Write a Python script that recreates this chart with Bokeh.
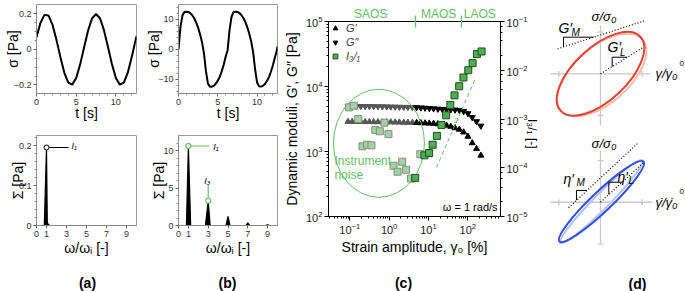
import math
from bokeh.plotting import figure
from bokeh.layouts import row, column
from bokeh.models import (Range1d, FixedTicker, Label, LogAxis, LogScale, Legend,
                          LegendItem, CustomJSTickFormatter)
from bokeh.embed import file_html
from bokeh.resources import INLINE

FONT = "Liberation Sans"
GREEN = "#63bf63"

# ---------------- data ----------------
# (a) linear stress response
t_a = [0.0, 0.5, 1.0, 1.5, 2.0, 2.5, 3.0, 3.5, 4.0, 4.5, 5.0, 5.5, 6.0, 6.5, 7.0,
       7.5, 8.0, 8.5, 9.0, 9.5, 10.0, 10.5, 11.0, 11.5, 12.0, 12.5, 12.6]
sig_a = [0.069, 0.150, 0.195, 0.192, 0.142, 0.057, -0.041, -0.130, -0.187, -0.198,
         -0.161, -0.084, 0.013, 0.107, 0.175, 0.200, 0.176, 0.109, 0.015, -0.082,
         -0.160, -0.198, -0.187, -0.131, -0.043, 0.056, 0.075]
# (a) spectrum
w_a = [0.0, 0.78, 1.0, 1.08, 1.3, 10.0]
S_a = [0.0, 0.0, 0.195, 0.006, 0.0, 0.0]
peak_a_w = [1.0]
peak_a_S = [0.195]

# (b) nonlinear stress response
t_b = [0.0, 0.25, 0.5, 0.75, 1.0, 1.25, 1.5, 1.75, 2.0, 2.25, 2.5, 2.75, 3.0, 3.25,
       3.5, 3.75, 4.0, 4.25, 4.5, 4.75, 5.0, 5.25, 5.5, 5.75, 6.0, 6.25, 6.5, 6.75,
       7.0, 7.25, 7.5, 7.75, 8.0, 8.25, 8.5, 8.75, 9.0, 9.25, 9.5, 9.75, 10.0, 10.25,
       10.5, 10.75, 11.0, 11.25, 11.5, 11.75, 12.0, 12.25, 12.5, 12.6]
sig_b = [0.0, 7.5, 11.3, 12.5, 12.6, 12.5, 12.1, 11.4, 10.4, 9.0, 7.2, 5.0, 2.3, -1.5,
         -7.5, -11.5, -12.5, -12.5, -12.2, -11.5, -10.5, -9.2, -7.4, -5.2, -2.5, -0.3,
         6.5, 10.9, 12.4, 12.6, 12.5, 12.15, 11.5, 10.5, 9.2, 7.4, 5.3, 2.7, -1.0, -6.7,
         -11.1, -12.4, -12.5, -12.25, -11.6, -10.6, -9.4, -7.6, -5.5, -2.9, -0.6, 1.0]
# (b) spectrum
w_b = [0.0, 0.8, 1.0, 1.23, 2.72, 3.0, 3.2, 4.8, 5.0, 5.2, 6.8, 7.0, 7.2, 8.8, 9.0, 9.2, 10.0]
S_b = [0.0, 0.0, 10.6, 0.0, 0.0, 3.3, 0.0, 0.0, 1.2, 0.0, 0.0, 0.35, 0.0, 0.0, 0.1, 0.0, 0.0]
peak_b_w = [1.0, 3.0]
peak_b_S = [10.6, 3.3]

# (c) strain sweep
strain = [0.09, 0.115, 0.148, 0.19, 0.245, 0.315, 0.405, 0.52, 0.67, 0.86, 1.1, 1.42,
          1.82, 2.35, 3.0, 3.9, 5.0, 6.4, 8.2, 10.5, 13.5, 17.4, 22.4, 28.8, 37.0, 47.5,
          61.0, 78.5, 101.0, 130.0, 167.0, 215.0]
G_storage = [2880, 2880, 2870, 2870, 2860, 2860, 2850, 2850, 2840, 2840, 2830, 2820,
             2810, 2800, 2790, 2780, 2770, 2750, 2730, 2710, 2690, 2650, 2600, 2520,
             2420, 2300, 2180, 1980, 1700, 1350, 1100, 870]
G_loss = [5000, 4990, 4980, 4970, 4960, 4950, 4940, 4930, 4910, 4900, 4880, 4860,
          4840, 4820, 4800, 4780, 4750, 4720, 4680, 4620, 4570, 4520, 4480, 4440,
          4420, 4380, 4320, 4150, 3850, 3350, 2900, 2480]
strain_noise = [0.096, 0.126, 0.164, 0.21, 0.275, 0.355, 0.447, 0.58, 0.76, 0.96,
                1.3, 1.64, 2.15, 2.7, 3.6, 6.2]
I31_noise = [1.73e-3, 1.87e-3, 1.0e-3, 2.75e-4, 2.97e-4, 2.88e-4, 5.96e-4, 5.6e-4,
             8.4e-4, 4.9e-4, 1.1e-4, 8.3e-5, 1.33e-4, 9.1e-5, 6.0e-5, 1.9e-4]
strain_I31 = [4.6, 7.9, 10.4, 12.8, 16.4, 21.5, 28.2, 36.0, 46.0, 60.6, 77.6, 103.0,
              133.0, 171.0, 224.0]
I31 = [6.2e-5, 1.8e-4, 2.0e-4, 2.97e-4, 4.5e-4, 7.5e-4, 1.19e-3, 1.94e-3, 3.05e-3,
       4.7e-3, 7.1e-3, 1.0e-2, 1.4e-2, 2.15e-2, 2.43e-2]
slope_strain = [16.0, 161.0]
slope_I31 = [1.02e-4, 7.1e-3]
regime_names = ["SAOS", "MAOS", "LAOS"]
regime_label_pos = [0.34, 18.1, 203.0]
regime_bounds = [4.81, 68.0]
SAOS_LIMIT = 4.5

# (d) schematic Lissajous loops (normalised units)
elastic_loop = dict(x=0.0, y=0.0, width=2.61, height=1.27, angle=0.75)
viscous_loop = dict(x=0.024, y=-3.063, width=2.78, height=0.48, angle=0.761)

panel_names = ["(a)", "(b)", "(c)", "(d)"]

TOP_H = 265  # height of the plotting row; panel letters sit in a strip below


# ---------------- helpers ----------------
def mk_map(fx0, fx1, fy0, fy1, xr, yr, xlog=False, ylog=False):
    def conv(u, r, log):
        if log:
            a, b = math.log10(r[0]), math.log10(r[1])
            return 10 ** (a + u * (b - a))
        return r[0] + u * (r[1] - r[0])

    def f(px, py):
        ux = (px - fx0) / (fx1 - fx0)
        uy = (fy1 - py) / (fy1 - fy0)
        return conv(ux, xr, xlog), conv(uy, yr, ylog)
    return f


def lab(p, m, px, py, text, size, angle=0.0, align="center", baseline="middle",
        color="black", style="normal"):
    x, y = m(px, py)
    p.add_layout(Label(x=x, y=y, text=text, text_font=FONT, text_font_size=f"{size}px",
                       angle=angle, text_align=align, text_baseline=baseline,
                       text_color=color, text_font_style=style))


def axlabel(ax, text, size=14, standoff=0):
    ax.axis_label = text
    ax.axis_label_text_font = FONT
    ax.axis_label_text_font_size = f"{size}px"
    ax.axis_label_text_font_style = "normal"
    ax.axis_label_text_color = "black"
    ax.axis_label_standoff = standoff


def style_small(p):
    p.grid.visible = False
    p.outline_line_color = "#9a9a9a"
    for ax in p.axis:
        ax.axis_line_color = "#8a8a8a"
        ax.major_tick_line_color = "#666666"
        ax.minor_tick_line_color = "#888888"
        ax.major_tick_out = 3
        ax.major_tick_in = 0
        ax.minor_tick_out = 2
        ax.minor_tick_in = 0
        ax.major_label_text_font = FONT
        ax.major_label_text_font_size = "9px"
        ax.major_label_text_color = "#333333"
        ax.major_label_standoff = 2


def small_fig(w, h, xr, yr, ml, mr, mt, mb):
    p = figure(width=w, height=h, x_range=Range1d(*xr), y_range=Range1d(*yr),
               output_backend="svg", toolbar_location=None,
               min_border_left=ml, min_border_right=mr, min_border_top=mt,
               min_border_bottom=mb)
    style_small(p)
    return p


# ---------------- panel (a) ----------------
xr, yr = (0, 12.6), (-0.248, 0.2535)
pa1 = small_fig(143, 130, xr, yr, 36, 7, 4, 37)
pa1.line(t_a, sig_a, line_color="black", line_width=2)
pa1.xaxis.ticker = FixedTicker(ticks=[0, 5, 10], minor_ticks=[1, 2, 3, 4, 6, 7, 8, 9, 11, 12])
pa1.yaxis.ticker = FixedTicker(ticks=[-0.2, 0, 0.2], minor_ticks=[-0.15, -0.1, -0.05, 0.05, 0.1, 0.15])
pa1.yaxis.major_label_overrides = {-0.2: "\u22120.2", 0: "0", 0.2: "0.2"}
axlabel(pa1.yaxis[0], "σ [Pa]", standoff=-10)
axlabel(pa1.xaxis[0], "t [s]", standoff=-3)

xr, yr = (0, 10), (0, 0.225)
pa2 = small_fig(143, TOP_H - 130, xr, yr, 36, 7, 5, TOP_H - 225)
ma2 = mk_map(36, 136, 135, 225, xr, yr)
pa2.varea(x=w_a, y1=[0] * len(w_a), y2=S_a, fill_color="black")
pa2.line(w_a, S_a, line_color="black", line_width=1.2)
pa2.line([peak_a_w[0], peak_a_w[0] + 2.2], [peak_a_S[0], peak_a_S[0]], line_color="black", line_width=1)
pa2.scatter(peak_a_w, peak_a_S, marker="circle", size=5, fill_color="white",
            line_color="black", line_width=1)
pa2.xaxis.ticker = FixedTicker(ticks=[0, 1, 3, 5, 7, 9])
pa2.yaxis.ticker = FixedTicker(ticks=[0, 0.1, 0.2], minor_ticks=[0.02, 0.04, 0.06, 0.08, 0.12, 0.14, 0.16, 0.18, 0.22])
pa2.yaxis.major_label_overrides = {0: "0", 0.1: "0.1", 0.2: "0.2"}
axlabel(pa2.yaxis[0], "Σ [Pa]", standoff=-10)
axlabel(pa2.xaxis[0], "ω/ωᵢ [-]", standoff=0)
lab(pa2, ma2, 71, 145, "I₁", 9, align="left", style="italic")

# ---------------- panel (b) ----------------
xr, yr = (0, 12.6), (-14.8, 15)
pb1 = small_fig(137, 130, xr, yr, 35, 3, 4, 37)
pb1.line(t_b, sig_b, line_color="black", line_width=2)
pb1.xaxis.ticker = FixedTicker(ticks=[0, 5, 10], minor_ticks=[1, 2, 3, 4, 6, 7, 8, 9, 11, 12])
pb1.yaxis.ticker = FixedTicker(ticks=[-10, 0, 10], minor_ticks=[-14, -12, -8, -6, -4, -2, 2, 4, 6, 8, 12, 14])
pb1.yaxis.major_label_overrides = {-10: "\u221210", 0: "0", 10: "10"}
axlabel(pb1.yaxis[0], "σ [Pa]", standoff=-7)
axlabel(pb1.xaxis[0], "t [s]", standoff=-3)

xr, yr = (0, 10), (0, 12)
pb2 = small_fig(137, TOP_H - 130, xr, yr, 35, 3, 5, TOP_H - 225)
mb2 = mk_map(178, 277, 135, 225, xr, yr)
pb2.varea(x=w_b, y1=[0] * len(w_b), y2=S_b, fill_color="black")
pb2.line(w_b, S_b, line_color="black", line_width=1.2)
pb2.line([peak_b_w[0], peak_b_w[0] + 2.1], [peak_b_S[0], peak_b_S[0]], line_color=GREEN, line_width=1.2)
pb2.line([peak_b_w[1], peak_b_w[1]], [peak_b_S[1], peak_b_S[1] + 2.1], line_color=GREEN, line_width=1.2)
pb2.scatter(peak_b_w, peak_b_S, marker="circle", size=5, fill_color="white",
            line_color=GREEN, line_width=1.2)
pb2.xaxis.ticker = FixedTicker(ticks=[0, 1, 3, 5, 7, 9])
pb2.yaxis.ticker = FixedTicker(ticks=[0, 5, 10], minor_ticks=[1, 2, 3, 4, 6, 7, 8, 9, 11])
axlabel(pb2.yaxis[0], "Σ [Pa]", standoff=-7)
axlabel(pb2.xaxis[0], "ω/ωᵢ [-]", standoff=0)
lab(pb2, mb2, 212.7, 146.7, "I₁", 9, align="left", style="italic")
lab(pb2, mb2, 206.7, 180, "I₃", 9, style="italic")

# ---------------- panel (c) ----------------
xr, yr, ir = (0.02868, 680.0), (1e2, 1e5), (1e-5, 1e-1)
pc = figure(width=268, height=TOP_H, x_axis_type="log", y_axis_type="log",
            x_range=Range1d(*xr), y_range=Range1d(*yr),
            output_backend="svg", toolbar_location=None,
            min_border_left=45, min_border_right=48, min_border_top=21,
            min_border_bottom=TOP_H - 216)
mc = mk_map(325, 500, 21, 216, xr, yr, xlog=True, ylog=True)
pc.grid.visible = False
pc.outline_line_color = "black"
pc.extra_y_ranges = {"I": Range1d(*ir)}
pc.extra_y_scales = {"I": LogScale()}
right_ax = LogAxis(y_range_name="I")
pc.add_layout(right_ax, "right")
top_ax = LogAxis(ticker=FixedTicker(ticks=regime_label_pos, minor_ticks=regime_bounds),
                 formatter=CustomJSTickFormatter(
                     args=dict(names=regime_names), code="return names[index]"))
pc.add_layout(top_ax, "above")
for ax in pc.axis:
    ax.axis_line_color = "black"
    ax.major_tick_line_color = "black"
    ax.minor_tick_line_color = "black"
    ax.major_tick_out = 4
    ax.major_tick_in = 0
    ax.minor_tick_out = 2
    ax.minor_tick_in = 0
    ax.major_label_text_font = FONT
    ax.major_label_text_font_size = "11px"
    ax.major_label_text_color = "#222222"
    ax.major_label_standoff = 2
top_ax.major_tick_line_color = None
top_ax.major_tick_out = 0
top_ax.minor_tick_in = 6
top_ax.minor_tick_out = 6
top_ax.minor_tick_line_color = GREEN
top_ax.minor_tick_line_width = 1.3
top_ax.major_label_text_color = GREEN
top_ax.major_label_text_font_size = "12px"
top_ax.major_label_standoff = -5
pc.xaxis[0].major_label_overrides = {1: "1"}
axlabel(pc.yaxis[0], "Dynamic moduli, G′, G″ [Pa]", standoff=3)
axlabel(pc.below[0], "Strain amplitude, γ₀ [%]", standoff=2)
axlabel(right_ax, "I₃/₁ [-]", size=12, standoff=1)
right_ax.axis_label_orientation = -math.pi / 2

gray_idx = [i for i, s in enumerate(strain) if s < SAOS_LIMIT]
blk_idx = [i for i, s in enumerate(strain) if s >= SAOS_LIMIT]
pc.scatter([strain[i] for i in gray_idx], [G_loss[i] for i in gray_idx], marker="inverted_triangle",
           size=6, color="#555555")
pc.scatter([strain[i] for i in gray_idx], [G_storage[i] for i in gray_idx], marker="triangle",
           size=6, color="#555555")
r_gl = pc.scatter([strain[i] for i in blk_idx], [G_loss[i] for i in blk_idx], marker="inverted_triangle",
                  size=6, color="black")
r_gs = pc.scatter([strain[i] for i in blk_idx], [G_storage[i] for i in blk_idx], marker="triangle",
                  size=6, color="black")

pc.ellipse(x=[0.55], y=[1337], width=[91], height=[108], width_units="screen",
           height_units="screen", fill_color=None, line_color=GREEN, line_width=1)
pc.line(slope_strain, slope_I31, y_range_name="I", line_color=GREEN, line_width=1,
        line_dash="4 3")
pc.scatter(strain_noise, I31_noise, y_range_name="I", marker="square", size=7,
           fill_color="#9fd49c", line_color="#8a8a8a", line_width=1)
r_i = pc.scatter(strain_I31, I31, y_range_name="I", marker="square", size=7,
                 fill_color="#4fae52", line_color="#1f4f1f", line_width=1)

leg = Legend(items=[LegendItem(label="G′", renderers=[r_gs]),
                    LegendItem(label="G″", renderers=[r_gl]),
                    LegendItem(label="I₃/₁", renderers=[r_i])],
             location="top_left", label_text_font=FONT, label_text_font_style="italic",
             label_text_font_size="11px", glyph_width=12, glyph_height=12, label_height=12,
             spacing=2, padding=2, margin=1, border_line_color=None,
             background_fill_alpha=0, label_standoff=5)
pc.add_layout(leg)

lab(pc, mc, 497, 206.5, "ω = 1 rad/s", 11, align="right")
lab(pc, mc, 331, 160.8, "Instrument", 12, align="left", color=GREEN)
lab(pc, mc, 331, 174, "noise", 12, align="left", color=GREEN)
lab(pc, mc, 455, 120, "2", 8, color=GREEN, style="italic")

# ---------------- panel (d) ----------------
U = 41.7
xr, yr = (-52 / U, 85 / U), (-(TOP_H - 73.3) / U, 73.3 / U)
pd = figure(width=137, height=TOP_H, x_range=Range1d(*xr), y_range=Range1d(*yr),
            output_backend="svg", toolbar_location=None, min_border=0,
            x_axis_location=None, y_axis_location=None)
md = mk_map(548, 685, 0, TOP_H, xr, yr)
pd.grid.visible = False
pd.outline_line_color = None

AX = "#c8c8c8"
pd.segment(x0=[-1.2, 0.0, -1.2, 0.0], y0=[0.0, 1.16, -3.08, -1.84],
           x1=[1.2, 0.0, 1.24, 0.0], y1=[0.0, -1.24, -3.08, -4.07],
           line_color=AX, line_width=1.3)
pd.segment(x0=[-1.0, 1.0, -0.07, -0.07, -1.0, 1.0, -0.07, -0.07],
           y0=[-0.07, -0.07, 1.0, -1.0, -3.15, -3.15, -2.08, -4.08],
           x1=[-1.0, 1.0, 0.07, 0.07, -1.0, 1.0, 0.07, 0.07],
           y1=[0.07, 0.07, 1.0, -1.0, -3.01, -3.01, -2.08, -4.08],
           line_color=AX, line_width=1.3)

pd.ellipse(x=elastic_loop["x"] + 0.03, y=elastic_loop["y"] - 0.03, width=elastic_loop["width"] - 0.02,
           height=elastic_loop["height"] + 0.06, angle=elastic_loop["angle"] - 0.03,
           fill_color=None, line_color="#f6bcb4", line_width=2)
pd.ellipse(x=elastic_loop["x"], y=elastic_loop["y"], width=elastic_loop["width"],
           height=elastic_loop["height"], angle=elastic_loop["angle"],
           fill_color=None, line_color="#e5432f", line_width=2)
pd.ellipse(x=viscous_loop["x"], y=viscous_loop["y"], width=viscous_loop["width"],
           height=viscous_loop["height"] - 0.12, angle=viscous_loop["angle"] + 0.03,
           fill_color=None, line_color="#b3c2f4", line_width=2)
pd.ellipse(x=viscous_loop["x"], y=viscous_loop["y"], width=viscous_loop["width"],
           height=viscous_loop["height"], angle=viscous_loop["angle"],
           fill_color=None, line_color="#2f50e3", line_width=2)

pd.segment(x0=[-1.03, 0.0, -0.767, 0.0], y0=[0.60, 0.0, -3.211, -3.08],
           x1=[1.08, 1.03, 0.887, 1.04], y1=[1.278, 0.638, -1.671, -2.12],
           line_color="black", line_width=1.2, line_dash="1 2")
pd.multi_line(xs=[[-0.887, -0.887, -0.165], [0.28, 0.28, 0.643],
                  [-0.576, -0.576, -0.324], [0.2, 0.2, 0.518]],
              ys=[[0.646, 0.878, 0.878], [0.173, 0.398, 0.398],
                  [-3.031, -2.798, -2.798], [-2.896, -2.6, -2.6]],
              line_color="black", line_width=1)

lab(pd, md, 603.5, 16, "σ/σ₀", 13, style="italic")
lab(pd, md, 558, 27.5, "G′", 14, align="left", style="italic")
lab(pd, md, 571, 32, "M", 10, align="left", style="italic")
lab(pd, md, 607, 46.7, "G′", 14, align="left", style="italic")
lab(pd, md, 619.5, 52, "L", 10, align="left", style="italic")
lab(pd, md, 655, 72.5, "γ/γ₀", 13, align="left", style="italic")
lab(pd, md, 679, 62.5, "0", 8, align="left")
lab(pd, md, 603.5, 143, "σ/σ₀", 13, style="italic")
lab(pd, md, 563, 178, "η′", 14, align="left", style="italic")
lab(pd, md, 576, 182, "M", 10, align="left", style="italic")
lab(pd, md, 617, 176, "η′", 14, align="left", style="italic")
lab(pd, md, 628, 180, "L", 10, align="left", style="italic")
lab(pd, md, 655, 201.7, "γ̇/γ̇₀", 13, align="left", style="italic")
lab(pd, md, 679, 191, "0", 8, align="left")

# ---------------- strip with the panel letters ----------------
SH = 291 - TOP_H
strip = figure(width=685, height=SH, x_range=Range1d(0, 685), y_range=Range1d(0, SH),
               output_backend="svg", toolbar_location=None, min_border=0,
               x_axis_location=None, y_axis_location=None)
strip.grid.visible = False
strip.outline_line_color = None
ms = mk_map(0, 685, TOP_H, 291, (0, 685), (0, SH))
for name, cx, cy in zip(panel_names, [87, 227, 403, 637], [282, 282, 282, 283]):
    lab(strip, ms, cx, cy, name, 14, style="bold")

layout = column(row(column(pa1, pa2), column(pb1, pb2), column(pc), column(pd)), strip)
open("out.html", "w").write(file_html(layout, INLINE))
